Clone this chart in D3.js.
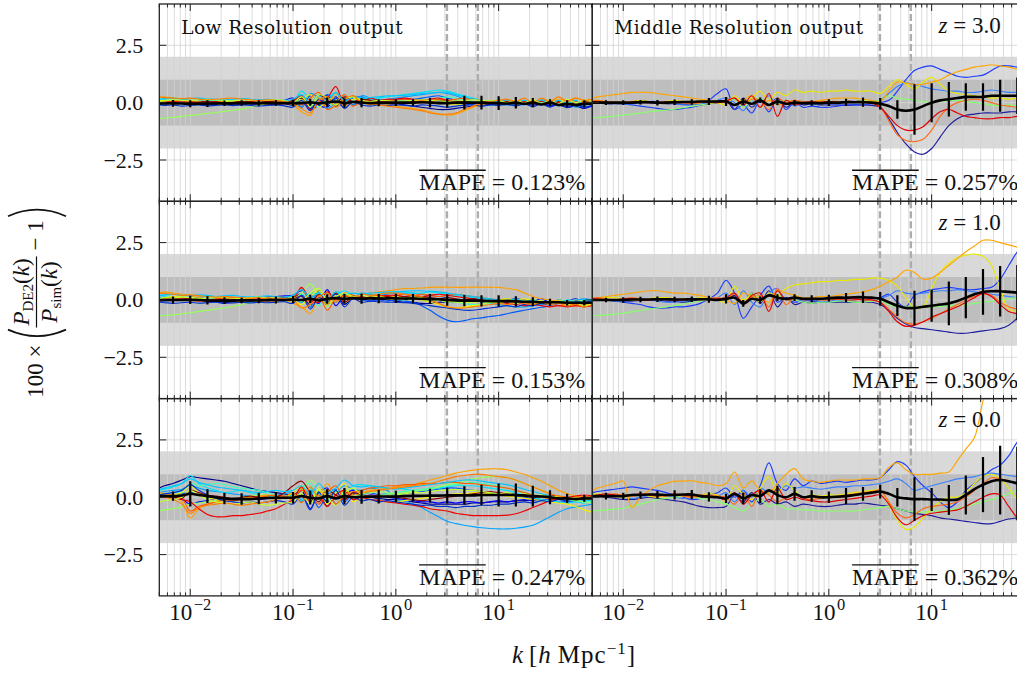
<!DOCTYPE html>
<html>
<head>
<meta charset="utf-8">
<script src="https://cdn.jsdelivr.net/npm/d3@7"></script>
<style>
  body { margin: 0; background: #fff; }
  svg { display: block; }
  text { font-family: "Liberation Serif", serif; fill: #111; }
</style>
</head>
<body>
<div id="chart"></div>
<script>
// ============================================================
// Data
// ============================================================
const K = [0.005, 0.0056, 0.0068, 0.0083, 0.01, 0.0121, 0.0147, 0.0178, 0.0215, 0.0261, 0.0316, 0.0383, 0.0464, 0.0562, 0.0681, 0.0825,
  0.1, 0.121, 0.147, 0.178, 0.215, 0.261, 0.316, 0.383, 0.464, 0.562, 0.681, 0.825,
  1, 1.21, 1.47, 1.78, 2.15, 2.61, 3.16, 3.83, 4.64, 5.62, 6.81, 8.25,
  10, 12.1, 14.7, 17.8, 21.5, 26.1, 31.6, 38.3, 46.4, 56.2, 68.1, 81.5];

const BAR_K = [0.0068, 0.01, 0.0147, 0.0215, 0.0316, 0.0464, 0.0681, 0.1, 0.147, 0.215, 0.316, 0.464, 0.681,
  1, 1.47, 2.15, 3.16, 4.64, 6.81, 10, 14.7, 21.5, 31.6, 46.4, 68.1];

const K_DOMAIN = [0.005, 81.5];
const Y_DOMAIN = [-4.3, 4.3];
const Y_TICKS = [-2.5, 0, 2.5];
const Y_TICK_LABELS = ['\u22122.5', '0.0', '2.5'];
const X_TICKS = [0.01, 0.1, 1, 10];
const X_TICK_EXP = ['\u22122', '\u22121', '0', '1'];
const DASHED_K = [3.14, 6.28];
const BANDS = [2, 1];

const LOW_COLORS = ['#00008f', '#0000ff', '#0058ff', '#00a4ff', '#00e4f8', '#40ffbc', '#96ff5a', '#f0f000', '#ffa000', '#ff5a00', '#ee0000', '#8b0000',
  '#0030d0', '#00c8ff', '#c8ff30', '#ff8000'];
const MID_COLORS = ['#1c1c9c', '#1a3cff', '#3a80ff', '#86ff6a', '#e8e800', '#ffa500', '#ff6a1a', '#e00000'];

// ---- Low resolution, z = 3.0
const LOW_Z3 = [
  [0.05,0.04,0.03,0.0,-0.05,-0.08,-0.1,-0.08,-0.05,-0.1,-0.08,-0.05,-0.07,-0.1,-0.08,-0.05, -0.1,0.2,-0.25,0.1,0.3,-0.15,0.2,-0.1,0.15,-0.05,0.05,-0.05, -0.05,-0.1,-0.15,-0.2,-0.25,-0.3,-0.3,-0.25,-0.2,-0.15,-0.1,-0.08, -0.05,-0.05,-0.1,-0.05,-0.1,-0.05,-0.15,-0.1,-0.2,-0.15,-0.25,-0.1],
  [0.1,0.08,0.05,0.05,0.0,-0.05,-0.02,0.05,0.08,0.05,0.02,-0.05,-0.03,0.0,0.05,0.1, 0.2,-0.2,0.3,-0.1,-0.2,0.25,-0.15,0.3,0.0,0.1,0.05,0.1, 0.1,0.05,0.1,0.15,0.1,0.05,0.0,-0.05,-0.1,-0.05,0.0,0.05, 0.0,0.05,-0.05,0.05,-0.1,0.1,-0.15,0.05,-0.2,-0.1,-0.2,-0.15],
  [-0.1,-0.05,0.0,0.02,0.05,0.08,0.1,0.05,0.0,-0.03,0.0,0.05,0.1,0.08,0.05,0.0, -0.05,0.3,-0.3,-0.1,0.35,0.1,-0.2,0.2,0.25,0.1,0.15,0.1, 0.1,0.12,0.15,0.2,0.25,0.3,0.2,0.1,0.0,-0.1,-0.15,-0.1, -0.05,0.0,0.05,0.0,-0.05,0.05,-0.1,0.0,-0.15,0.05,-0.1,-0.05],
  [0.05,0.1,0.05,0.0,-0.05,0.0,0.05,0.1,0.05,0.0,0.05,0.1,0.05,0.0,-0.05,0.0, 0.1,-0.2,0.4,0.2,-0.25,0.0,0.15,-0.1,0.3,0.2,0.1,0.15, 0.2,0.25,0.3,0.35,0.4,0.45,0.4,0.3,0.15,0.05,0.0,-0.05, -0.05,-0.1,-0.05,-0.1,0.0,-0.1,0.05,-0.15,0.0,-0.2,-0.1,-0.05],
  [0.15,0.12,0.1,0.1,0.08,0.05,0.08,0.1,0.05,0.02,0.0,0.05,0.08,0.05,0.1,0.05, 0.0,0.5,0.1,-0.2,0.2,0.4,-0.1,0.1,0.2,0.15,0.2,0.25, 0.3,0.35,0.4,0.45,0.5,0.55,0.5,0.4,0.3,0.2,0.1,0.05, 0.05,0.0,0.05,-0.05,0.05,-0.05,0.0,-0.1,0.05,-0.05,0.0,0.05],
  [0.2,0.18,0.15,0.1,0.1,0.12,0.1,0.05,0.05,0.08,0.05,0.0,0.02,0.05,0.0,0.05, 0.1,0.3,-0.2,0.35,0.0,-0.1,0.3,0.1,-0.05,0.1,0.05,0.1, 0.1,0.05,0.1,0.1,0.15,0.2,0.25,0.2,0.1,0.05,0.0,0.0, 0.0,0.05,0.0,0.05,-0.05,0.0,0.05,-0.05,0.0,0.05,-0.05,0.0],
  [-0.69,-0.67,-0.64,-0.6,-0.56,-0.52,-0.47,-0.43,-0.38,-0.33,-0.28,-0.2,-0.12,-0.05,0.0,0.02, 0.0,0.15,-0.15,0.2,-0.1,0.1,0.0,0.05,0.1,0.0,0.05,0.0, 0.0,0.05,0.0,0.05,0.1,0.1,0.05,0.0,0.05,0.0,0.0,0.0, 0.0,0.05,0.0,-0.05,0.0,0.05,-0.05,0.0,0.05,-0.05,0.0,0.05],
  [0.1,0.08,0.05,0.02,0.0,-0.02,0.0,0.02,0.05,0.02,0.0,0.05,0.02,0.0,0.05,0.1, -0.05,0.1,0.35,-0.2,0.1,0.2,-0.05,0.15,0.05,0.0,0.1,0.05, 0.05,0.0,0.05,0.1,0.05,0.0,-0.05,-0.1,-0.05,0.0,0.05,0.1, 0.05,0.1,0.05,0.0,0.05,0.1,0.0,0.05,0.1,0.0,0.05,0.15],
  [0.2,0.25,0.2,0.15,0.1,0.05,0.0,-0.05,-0.05,0.0,0.05,0.0,-0.05,0.0,0.05,0.0, -0.1,-0.4,-0.55,0.2,-0.1,0.4,-0.2,0.3,0.1,-0.1,-0.05,-0.1, -0.15,-0.2,-0.25,-0.3,-0.4,-0.5,-0.55,-0.5,-0.35,-0.2,-0.1,0.0, 0.05,0.1,0.05,0.1,0.0,0.1,0.05,0.15,0.1,0.2,0.1,0.15],
  [0.0,0.05,0.08,0.1,0.05,0.0,0.05,0.0,-0.05,0.0,0.02,0.05,0.0,-0.05,0.0,-0.05, 0.05,-0.1,0.2,0.45,-0.3,-0.1,0.35,-0.15,0.05,0.1,0.05,0.1, 0.1,0.15,0.1,0.05,0.1,0.15,0.1,0.15,0.2,0.15,0.1,0.05, 0.1,0.05,0.1,0.0,0.05,0.1,0.05,0.0,0.1,0.05,0.0,-0.05],
  [-0.05,0.0,0.05,0.08,0.05,0.0,0.02,0.05,0.0,-0.02,0.0,0.05,0.02,0.05,0.0,0.02, 0.1,0.3,-0.3,0.0,0.2,0.7,-0.1,0.25,0.05,0.2,0.1,0.15, 0.15,0.2,0.15,0.1,0.15,0.2,0.1,0.05,0.1,0.15,0.1,0.05, 0.1,0.05,0.0,0.05,-0.05,0.05,-0.05,0.0,-0.1,0.0,-0.05,0.05],
  [0.05,0.02,0.0,-0.02,0.0,0.02,0.05,0.02,0.0,0.03,0.05,0.02,0.0,0.05,0.02,0.0, 0.05,0.2,-0.1,0.35,0.1,0.0,0.25,0.05,0.15,0.1,0.05,0.05, 0.05,0.0,0.05,0.0,0.05,0.1,0.05,0.0,0.05,0.0,-0.05,0.0, 0.0,0.05,-0.05,0.0,0.05,-0.05,0.0,0.05,-0.05,0.0,0.05,0.0],
  [-0.1,-0.12,-0.1,-0.15,-0.12,-0.1,-0.14,-0.12,-0.1,-0.13,-0.1,-0.12,-0.15,-0.12,-0.1,-0.14, -0.2,0.1,-0.35,0.15,-0.1,0.2,-0.25,0.05,-0.1,-0.15,-0.1,-0.12, -0.1,-0.12,-0.15,-0.1,-0.12,-0.15,-0.2,-0.15,-0.12,-0.1,-0.15,-0.1, -0.12,-0.08,-0.15,-0.05,-0.18,-0.05,-0.2,-0.05,-0.22,-0.08,-0.2,-0.1],
  [0.15,0.18,0.2,0.15,0.18,0.2,0.17,0.15,0.12,0.15,0.18,0.15,0.12,0.15,0.12,0.1, 0.15,0.35,0.0,0.3,0.1,0.45,0.05,0.25,0.2,0.22,0.25,0.3, 0.3,0.32,0.35,0.4,0.42,0.45,0.45,0.35,0.25,0.15,0.1,0.08, 0.05,0.12,0.0,0.1,-0.02,0.12,-0.05,0.1,-0.05,0.1,-0.08,0.05],
  [0.05,0.08,0.12,0.1,0.08,0.12,0.15,0.12,0.1,0.08,0.12,0.1,0.08,0.1,0.12,0.08, 0.0,0.25,-0.15,0.35,0.2,-0.1,0.15,0.25,0.1,0.05,0.1,0.08, 0.05,0.08,0.1,0.12,0.1,0.08,0.05,0.08,0.1,0.12,0.1,0.08, 0.1,0.0,0.12,-0.02,0.15,-0.05,0.12,-0.05,0.15,0.0,0.1,0.05],
  [0.25,0.22,0.2,0.18,0.2,0.15,0.12,0.15,0.18,0.2,0.15,0.12,0.1,0.12,0.1,0.05, -0.05,-0.25,-0.45,0.1,0.25,-0.2,0.15,0.3,0.0,-0.05,-0.1,-0.15, -0.2,-0.25,-0.3,-0.35,-0.45,-0.5,-0.5,-0.45,-0.3,-0.15,-0.05,0.05, 0.1,0.15,0.05,0.2,0.0,0.2,0.05,0.25,0.05,0.2,0.1,0.15]
];
const MEAN_LOW_Z3 = [-0.03,-0.03,-0.03,-0.04,-0.05,-0.05,-0.04,-0.03,-0.03,-0.03,-0.02,-0.02,-0.02,-0.02,-0.02,-0.02, -0.02,-0.02,0.02,-0.03,0.02,0.05,-0.02,0.03,0.0,-0.02,-0.01,0.0, 0.0,0.0,0.0,0.02,0.0,-0.02,-0.02,0.0,0.0,0.0,0.0,-0.02, -0.02,-0.04,0.0,-0.05,0.0,-0.08,0.0,-0.1,-0.05,-0.1,-0.05,-0.05];
const ERR_LOW_Z3 = [0.15,0.15,0.15,0.12,0.12,0.12,0.12,0.15,0.15,0.2,0.2,0.2,0.15,0.15,0.15,0.2,0.2,0.3,0.3,0.3,0.25,0.2,0.15,0.15,0.15];

// ---- Low resolution, z = 1.0
const LOW_Z1 = [
  [0.0,-0.02,0.0,0.03,0.05,0.0,-0.05,-0.08,-0.1,-0.12,-0.1,-0.08,-0.05,-0.05,0.0,0.05, 0.1,0.25,-0.3,0.4,-0.15,0.3,-0.2,0.1,0.05,0.0,0.05,0.0, -0.05,-0.1,-0.1,-0.15,-0.15,-0.1,-0.1,-0.05,0.0,0.05,0.0,-0.05, -0.1,-0.05,-0.1,-0.15,-0.1,-0.15,-0.1,-0.05,-0.1,-0.05,-0.1,-0.05],
  [0.1,0.08,0.05,0.0,-0.02,0.0,0.05,0.1,0.12,0.1,0.05,0.08,0.1,0.12,0.15,0.18, 0.2,0.4,0.1,-0.15,0.45,-0.25,0.2,0.05,0.15,0.1,0.12,0.1, 0.05,0.0,0.05,0.0,-0.05,0.0,-0.05,-0.1,-0.05,0.0,0.05,0.0, -0.05,0.0,0.05,0.0,-0.05,0.05,-0.1,0.0,-0.05,0.05,-0.1,0.0],
  [-0.05,-0.05,-0.02,0.0,0.02,0.0,-0.02,0.0,0.02,0.05,0.02,0.0,0.05,0.08,0.05,0.0, 0.05,-0.1,0.2,0.0,-0.2,0.15,0.05,0.1,0.0,-0.05,0.0,-0.05, 0.0,-0.05,-0.1,-0.25,-0.45,-0.7,-0.88,-0.95,-0.9,-0.82,-0.78,-0.72, -0.68,-0.6,-0.52,-0.45,-0.38,-0.32,-0.25,-0.15,-0.1,-0.05,0.0,0.02],
  [0.1,0.12,0.1,0.08,0.05,0.1,0.15,0.12,0.1,0.08,0.1,0.05,0.0,0.05,0.1,0.05, 0.0,0.2,-0.3,0.35,0.1,-0.1,0.25,0.1,0.3,0.25,0.2,0.25, 0.3,0.3,0.3,0.25,0.2,0.15,0.1,0.05,0.0,-0.05,-0.1,-0.15, -0.2,-0.25,-0.3,-0.3,-0.25,-0.2,-0.15,-0.1,-0.05,0.0,0.05,0.0],
  [0.2,0.18,0.15,0.12,0.1,0.12,0.15,0.1,0.05,0.08,0.1,0.12,0.1,0.05,0.08,0.1, 0.15,-0.1,0.3,0.2,-0.2,0.2,0.4,0.2,0.1,0.2,0.25,0.3, 0.35,0.35,0.3,0.3,0.35,0.3,0.25,0.2,0.15,0.1,0.05,0.0, -0.05,-0.1,-0.05,-0.1,-0.15,-0.1,-0.15,-0.1,-0.05,-0.1,0.0,-0.05],
  [0.05,0.1,0.15,0.1,0.05,0.0,0.05,0.08,0.1,0.05,0.02,0.0,0.05,0.1,0.05,0.0, -0.1,0.25,0.0,-0.25,0.3,0.1,0.05,0.2,0.05,0.1,0.05,0.1, 0.1,0.15,0.15,0.1,0.05,0.0,-0.05,-0.1,-0.15,-0.2,-0.2,-0.15, -0.1,-0.15,-0.1,-0.05,-0.1,-0.15,-0.1,-0.05,0.0,-0.05,-0.1,-0.05],
  [-0.7,-0.68,-0.65,-0.6,-0.56,-0.5,-0.45,-0.4,-0.34,-0.28,-0.2,-0.12,-0.05,0.0,0.02,0.0, 0.05,0.3,0.7,0.2,-0.3,0.2,0.1,0.05,0.15,0.05,0.1,0.05, 0.05,0.0,0.05,0.0,-0.05,0.0,-0.1,-0.05,0.0,-0.05,0.0,-0.05, -0.1,-0.05,-0.1,-0.05,0.0,-0.05,-0.1,0.0,-0.05,0.0,-0.05,0.0],
  [0.05,0.1,0.15,0.12,0.1,0.05,0.0,0.02,0.05,0.0,-0.05,0.0,0.05,0.0,-0.02,0.05, 0.0,-0.2,0.15,0.4,-0.1,0.0,0.2,0.1,0.05,0.15,0.1,0.15, 0.15,0.1,0.05,0.0,-0.1,-0.2,-0.3,-0.35,-0.3,-0.25,-0.2,-0.1, 0.0,0.05,0.0,0.05,0.0,-0.05,-0.1,-0.05,-0.1,-0.15,-0.1,-0.1],
  [0.3,0.35,0.3,0.25,0.2,0.1,0.05,0.0,-0.05,-0.1,-0.05,0.0,-0.05,-0.1,-0.05,0.0, -0.15,-0.3,-0.6,0.1,-0.2,0.3,-0.1,0.1,0.2,0.3,0.35,0.4, 0.45,0.5,0.5,0.52,0.55,0.56,0.56,0.55,0.55,0.56,0.56,0.55, 0.55,0.5,0.45,0.3,0.15,0.05,0.0,-0.05,-0.1,-0.05,-0.1,-0.05],
  [0.0,0.05,0.1,0.05,0.0,-0.05,0.0,0.05,0.1,0.05,0.0,0.05,0.1,0.05,0.0,0.05, 0.1,0.5,-0.1,0.2,-0.45,0.1,0.3,0.2,0.1,0.15,0.2,0.15, 0.2,0.25,0.2,0.25,0.2,0.15,0.2,0.25,0.2,0.15,0.1,0.05, 0.0,-0.05,-0.1,-0.15,-0.2,-0.15,-0.2,-0.25,-0.2,-0.25,-0.2,-0.15],
  [-0.05,0.0,0.05,0.1,0.05,0.0,-0.05,0.0,0.05,0.1,0.05,0.0,0.05,0.1,0.15,0.1, 0.05,0.55,0.0,-0.1,0.35,0.0,0.2,0.05,0.15,0.1,0.15,0.2, 0.2,0.15,0.2,0.15,0.2,0.25,0.2,0.15,0.1,0.05,0.0,-0.05, -0.1,-0.15,-0.2,-0.25,-0.2,-0.25,-0.3,-0.25,-0.3,-0.25,-0.3,-0.25],
  [0.0,-0.02,0.0,0.02,0.05,0.02,0.0,-0.02,0.0,0.02,0.05,0.02,0.0,0.02,0.05,0.1, 0.05,0.15,-0.2,0.25,0.05,0.3,-0.1,0.15,0.1,0.05,0.1,0.15, 0.1,0.15,0.1,0.15,0.1,0.05,0.1,0.05,0.0,0.05,0.0,-0.05, -0.05,-0.1,-0.05,-0.1,-0.15,-0.1,-0.15,-0.1,-0.15,-0.2,-0.15,-0.1],
  [-0.1,-0.12,-0.15,-0.12,-0.1,-0.14,-0.12,-0.1,-0.15,-0.12,-0.1,-0.13,-0.1,-0.12,-0.1,-0.08, -0.15,0.2,-0.4,0.1,-0.05,0.25,-0.3,0.05,-0.1,-0.05,-0.08,-0.1, -0.1,-0.12,-0.15,-0.2,-0.25,-0.3,-0.35,-0.4,-0.45,-0.45,-0.4,-0.35, -0.3,-0.25,-0.3,-0.2,-0.25,-0.15,-0.2,-0.1,-0.15,-0.05,-0.1,-0.05],
  [0.2,0.22,0.25,0.2,0.18,0.22,0.2,0.15,0.18,0.2,0.15,0.12,0.15,0.18,0.15,0.12, 0.2,0.45,0.1,0.3,0.05,0.35,0.25,0.3,0.25,0.3,0.32,0.35, 0.35,0.38,0.4,0.4,0.38,0.35,0.3,0.25,0.2,0.15,0.1,0.05, 0.0,-0.05,0.05,-0.08,0.0,-0.1,-0.05,-0.12,0.0,-0.1,-0.05,0.0],
  [0.05,0.1,0.08,0.12,0.1,0.05,0.08,0.12,0.1,0.08,0.05,0.1,0.12,0.08,0.1,0.05, 0.1,-0.05,0.3,0.5,0.0,0.15,0.3,0.15,0.2,0.12,0.15,0.1, 0.12,0.1,0.08,0.1,0.05,0.0,-0.05,-0.1,-0.12,-0.1,-0.08,-0.1, -0.12,-0.05,-0.15,-0.05,-0.15,-0.08,-0.2,-0.1,-0.2,-0.15,-0.25,-0.15],
  [0.3,0.28,0.25,0.2,0.22,0.18,0.15,0.12,0.15,0.12,0.1,0.08,0.1,0.05,0.08,0.05, 0.0,-0.35,-0.2,0.15,0.3,-0.1,0.2,0.1,0.25,0.2,0.25,0.3, 0.3,0.25,0.2,0.15,0.0,-0.15,-0.3,-0.35,-0.35,-0.3,-0.25,-0.2, -0.15,-0.2,-0.1,-0.15,-0.2,-0.1,-0.2,-0.15,-0.25,-0.2,-0.3,-0.2]
];
const MEAN_LOW_Z1 = [0.0,0.0,0.0,0.0,0.0,0.0,-0.02,-0.03,-0.03,-0.03,-0.02,-0.02,-0.02,0.0,0.0,0.0, 0.02,0.0,0.05,-0.02,0.05,0.08,0.05,0.08,0.05,0.08,0.06,0.07, 0.07,0.06,0.06,0.05,0.04,0.03,0.0,-0.02,-0.03,-0.03,-0.04,-0.05, -0.05,-0.05,-0.06,-0.08,-0.08,-0.1,-0.1,-0.1,-0.12,-0.12,-0.12,-0.12];
const ERR_LOW_Z1 = [0.15,0.18,0.18,0.15,0.12,0.12,0.15,0.15,0.18,0.2,0.22,0.22,0.2,0.2,0.2,0.22,0.25,0.25,0.25,0.25,0.22,0.2,0.15,0.12,0.12];

// ---- Low resolution, z = 0.0
const LOW_Z0 = [
  [0.4,0.5,0.6,0.75,0.9,0.85,0.8,0.75,0.7,0.6,0.5,0.4,0.3,0.25,0.2,0.15, 0.1,0.3,-0.2,0.25,-0.4,0.2,-0.1,0.1,0.0,-0.1,-0.05,-0.1, -0.1,-0.15,-0.2,-0.25,-0.3,-0.3,-0.3,-0.3,-0.3,-0.25,-0.25,-0.2, -0.2,-0.2,-0.15,-0.15,-0.1,-0.15,-0.1,-0.05,-0.1,-0.05,-0.1,-0.05],
  [0.1,0.05,0.0,-0.1,-0.3,-0.2,-0.15,-0.1,-0.1,-0.05,0.0,-0.05,-0.1,-0.05,0.0,0.05, -0.1,0.3,-0.5,0.2,0.4,-0.3,0.1,0.3,0.0,0.1,0.05,0.0, -0.05,-0.1,-0.15,-0.2,-0.2,-0.25,-0.2,-0.25,-0.2,-0.2,-0.25,-0.2, -0.15,-0.2,-0.15,-0.1,-0.15,-0.1,-0.15,-0.1,-0.2,-0.1,-0.05,-0.1],
  [0.0,0.05,0.1,0.15,0.2,0.1,0.05,0.0,-0.05,-0.1,-0.05,0.0,0.05,0.0,-0.05,0.0, 0.1,-0.2,0.2,-0.45,0.1,0.35,-0.2,0.15,0.1,0.2,0.1,0.15, 0.1,0.15,0.2,0.25,0.3,0.35,0.4,0.4,0.35,0.3,0.25,0.2, 0.15,0.1,0.05,0.0,-0.05,-0.1,-0.15,-0.2,-0.2,-0.15,-0.1,-0.05],
  [0.2,0.25,0.3,0.35,0.5,0.4,0.3,0.25,0.2,0.15,0.1,0.05,0.0,0.05,0.1,0.15, 0.2,-0.1,0.3,0.1,-0.1,0.2,0.5,0.35,0.3,0.4,0.35,0.3, -0.1,-0.15,-0.3,-0.45,-0.65,-0.85,-1.05,-1.15,-1.22,-1.28,-1.33,-1.36, -1.38,-1.38,-1.35,-1.3,-1.22,-1.05,-0.85,-0.65,-0.5,-0.42,-0.36,-0.3],
  [0.3,0.35,0.45,0.6,0.95,0.6,0.4,0.3,0.2,0.25,0.3,0.2,0.1,0.05,0.0,0.05, 0.1,-0.15,0.35,0.2,-0.2,0.3,0.1,0.5,0.55,0.5,0.45,0.4, 0.4,0.35,0.3,0.3,0.35,0.4,0.45,0.5,0.5,0.5,0.45,0.4, 0.35,0.3,0.2,0.1,0.0,-0.1,-0.15,-0.2,-0.25,-0.2,-0.25,-0.2],
  [0.1,0.15,0.2,0.25,0.6,0.5,0.55,0.6,0.55,0.45,0.4,0.35,0.3,0.2,0.1,0.05, 0.0,0.4,0.6,-0.1,0.3,0.1,0.2,0.0,0.1,0.05,0.1,0.15, 0.2,0.25,0.3,0.35,0.4,0.45,0.5,0.55,0.6,0.65,0.6,0.55, 0.5,0.4,0.3,0.2,0.1,0.0,-0.05,-0.1,-0.15,-0.1,-0.2,-0.15],
  [-0.6,-0.55,-0.5,-0.42,-0.3,-0.25,-0.2,-0.15,-0.1,-0.05,0.0,0.05,0.1,0.1,0.05,0.0, 0.05,0.2,0.75,0.4,-0.1,0.2,0.1,0.05,0.15,0.2,0.25,0.2, 0.15,0.2,0.25,0.3,0.35,0.45,0.55,0.6,0.7,0.8,0.85,0.9, 0.9,0.85,0.75,0.6,0.45,0.3,0.15,0.0,-0.1,-0.15,-0.2,-0.25],
  [0.0,0.05,0.1,0.2,0.5,0.2,0.0,-0.1,-0.15,-0.1,-0.05,0.0,0.05,0.0,-0.05,0.0, 0.2,0.5,-0.1,0.3,-0.3,0.2,0.6,-0.2,0.0,-0.1,-0.15,-0.2, -0.2,-0.15,-0.1,-0.05,0.0,0.05,0.1,0.15,0.15,0.2,0.2,0.15, 0.1,0.05,0.0,-0.05,-0.1,-0.15,-0.2,-0.25,-0.3,-0.4,-0.55,-0.65],
  [0.2,0.15,0.1,-0.2,-0.9,-0.5,-0.3,-0.2,-0.15,-0.1,-0.05,0.0,0.05,0.1,0.05,0.0, -0.1,0.4,-0.2,0.1,0.6,0.0,0.3,0.1,0.2,0.3,0.35,0.4, 0.45,0.5,0.55,0.65,0.75,0.85,0.95,1.05,1.12,1.18,1.22,1.24, 1.24,1.2,1.1,1.0,0.85,0.7,0.5,0.3,0.15,0.05,0.0,-0.05],
  [0.1,0.05,0.0,-0.05,-0.6,-0.4,-0.3,-0.2,-0.1,-0.15,-0.1,-0.05,0.0,0.05,0.1,0.05, 0.0,0.3,0.1,-0.3,0.2,0.5,-0.1,0.2,0.3,0.4,0.45,0.5, 0.5,0.55,0.55,0.6,0.6,0.6,0.65,0.65,0.6,0.6,0.55,0.5, 0.45,0.4,0.3,0.2,0.1,0.0,-0.05,-0.1,-0.1,-0.05,0.0,0.0],
  [0.1,0.05,0.0,-0.1,-0.2,-0.5,-0.75,-0.85,-0.85,-0.8,-0.8,-0.75,-0.7,-0.6,-0.5,-0.3, -0.1,0.45,-0.2,0.0,-0.4,0.1,0.3,-0.1,0.0,-0.1,-0.15,-0.2, -0.25,-0.3,-0.35,-0.4,-0.5,-0.55,-0.6,-0.7,-0.75,-0.8,-0.8,-0.8, -0.8,-0.78,-0.72,-0.6,-0.45,-0.3,-0.15,-0.05,0.0,0.05,0.1,0.05],
  [0.0,0.05,0.0,-0.05,0.3,0.2,0.1,0.05,0.0,-0.05,0.0,0.05,0.0,-0.05,0.0,0.2, 0.5,0.7,0.2,-0.2,0.3,0.1,-0.1,0.2,0.1,0.05,0.1,0.05, 0.0,-0.05,-0.1,-0.15,-0.1,-0.05,0.0,0.05,0.1,0.15,0.2,0.25, 0.2,0.15,0.1,0.05,0.0,0.05,0.1,0.05,0.0,-0.05,0.0,0.05],
  [0.1,0.15,0.2,0.3,0.55,0.3,0.1,-0.05,-0.15,-0.2,-0.25,-0.2,-0.25,-0.2,-0.15,-0.2, -0.3,0.1,-0.55,0.2,-0.2,0.3,-0.35,0.0,-0.15,-0.1,-0.2,-0.15, -0.2,-0.25,-0.3,-0.35,-0.35,-0.4,-0.4,-0.45,-0.4,-0.4,-0.35,-0.35, -0.3,-0.3,-0.25,-0.2,-0.25,-0.15,-0.2,-0.1,-0.15,-0.05,-0.1,-0.05],
  [0.35,0.4,0.5,0.6,0.8,0.65,0.55,0.45,0.4,0.35,0.3,0.25,0.2,0.25,0.3,0.25, 0.3,0.5,0.1,0.6,0.2,0.4,0.75,0.5,0.45,0.5,0.45,0.4, 0.35,0.4,0.45,0.5,0.55,0.6,0.65,0.7,0.75,0.75,0.7,0.65, 0.6,0.55,0.45,0.35,0.25,0.15,0.05,0.0,-0.1,-0.05,-0.15,-0.1],
  [-0.2,-0.15,-0.1,0.0,0.3,0.1,-0.1,-0.2,-0.25,-0.3,-0.25,-0.2,-0.3,-0.35,-0.3,-0.25, -0.2,0.15,-0.3,0.35,0.0,-0.35,0.2,0.4,0.1,0.0,0.05,0.1, 0.1,0.15,0.2,0.2,0.25,0.3,0.3,0.35,0.3,0.3,0.25,0.2, 0.15,0.2,0.1,0.15,0.05,0.1,0.0,0.05,-0.05,0.0,-0.1,-0.05],
  [0.05,0.0,-0.1,-0.3,-0.7,-0.45,-0.35,-0.3,-0.25,-0.3,-0.35,-0.3,-0.25,-0.2,-0.1,0.0, 0.2,-0.25,0.45,0.0,0.35,-0.3,0.1,0.25,0.2,0.25,0.3,0.35, 0.4,0.45,0.5,0.55,0.6,0.7,0.8,0.9,0.95,1.0,1.0,0.95, 0.9,0.85,0.75,0.6,0.45,0.3,0.15,0.05,0.0,-0.05,0.05,0.0]
];
const MEAN_LOW_Z0 = [0.05,0.05,0.05,0.08,0.15,0.1,0.05,0.0,-0.05,-0.08,-0.08,-0.08,-0.05,-0.03,-0.02,-0.02, -0.02,0.05,-0.02,-0.05,0.05,-0.05,0.05,0.0,0.02,0.02,0.03,0.03, 0.03,0.05,0.06,0.06,0.07,0.07,0.08,0.08,0.08,0.08,0.1,0.1, 0.1,0.1,0.1,0.08,0.05,0.03,0.0,-0.05,-0.05,-0.08,-0.05,-0.05];
const ERR_LOW_Z0 = [0.2,0.55,0.3,0.25,0.25,0.25,0.25,0.25,0.3,0.3,0.35,0.3,0.3,0.25,0.25,0.3,0.35,0.4,0.45,0.5,0.5,0.45,0.3,0.2,0.15];

// ---- Middle resolution, z = 3.0
const MID_Z3 = [
  [0.0,0.0,-0.05,-0.05,-0.05,-0.03,0.0,0.0,-0.02,-0.05,-0.05,-0.08,-0.1,-0.1,-0.05,0.0, 0.1,-0.3,0.2,-0.2,0.1,-0.1,0.2,-0.2,0.0,-0.1,-0.05,-0.1, -0.1,-0.1,-0.12,-0.1,-0.1,-0.12,-0.2,-0.7,-1.3,-1.8,-2.15,-2.25, -2.0,-1.5,-1.0,-0.7,-0.55,-0.5,-0.45,-0.45,-0.45,-0.4,-0.4,-0.4],
  [0.0,0.05,0.05,0.0,-0.05,-0.1,-0.15,-0.2,-0.25,-0.3,-0.3,-0.25,-0.2,-0.1,0.1,0.4, 0.6,-0.3,-0.1,-0.45,0.1,-0.4,0.2,-0.3,0.0,-0.2,-0.15,-0.2, -0.2,-0.15,-0.1,-0.1,-0.1,-0.05,0.0,0.1,0.5,1.0,1.4,1.55, 1.6,1.45,1.3,1.15,1.1,1.15,1.2,1.4,1.6,1.6,1.55,1.5],
  [0.05,0.05,0.0,0.0,-0.05,-0.05,0.0,0.05,0.05,0.0,-0.05,-0.1,-0.1,-0.05,0.0,0.1, 0.2,0.0,-0.35,0.1,-0.2,0.3,-0.1,0.1,-0.15,0.0,-0.1,-0.05, -0.05,-0.05,0.0,0.0,0.0,0.05,0.1,0.4,0.7,0.85,0.8,0.7, 0.6,0.55,0.5,0.5,0.45,0.45,0.5,0.55,0.5,0.45,0.45,0.4],
  [-0.67,-0.65,-0.62,-0.58,-0.54,-0.5,-0.45,-0.4,-0.36,-0.32,-0.28,-0.22,-0.15,-0.1,-0.05,0.0, 0.05,0.15,-0.2,0.1,0.2,-0.1,0.05,0.1,0.0,0.05,0.0,0.05, 0.05,0.0,0.05,0.05,0.1,0.05,0.1,0.3,0.2,0.15,0.1,0.05, 0.0,0.05,0.1,0.1,0.05,0.0,-0.05,-0.1,-0.15,-0.1,-0.15,-0.1],
  [0.1,0.1,0.05,0.05,0.0,0.05,0.1,0.05,0.0,0.05,0.1,0.05,0.0,0.0,0.05,0.0, -0.1,0.3,0.0,0.2,0.5,0.1,0.45,0.3,0.55,0.45,0.5,0.45, 0.5,0.5,0.55,0.5,0.5,0.5,0.4,0.7,1.0,0.8,0.6,0.9, 1.1,0.8,0.5,0.4,0.35,0.3,0.25,0.2,0.2,0.15,0.2,0.15],
  [0.2,0.25,0.3,0.35,0.4,0.45,0.45,0.45,0.4,0.35,0.3,0.25,0.2,0.15,0.1,0.05, 0.0,-0.1,0.1,0.3,-0.2,0.1,-0.1,0.0,0.1,0.0,0.05,0.1, 0.15,0.2,0.2,0.2,0.15,0.1,0.05,0.5,0.9,0.85,0.8,0.8, 0.9,1.0,1.2,1.35,1.45,1.55,1.6,1.65,1.6,1.55,1.45,1.35],
  [0.1,0.1,0.05,0.05,0.0,0.0,0.05,0.05,0.0,0.0,0.05,0.0,-0.05,0.0,0.05,0.0, 0.1,0.2,-0.1,0.15,0.1,-0.3,0.2,0.0,0.1,0.05,0.0,0.05, 0.05,0.05,0.0,0.05,0.0,0.0,-0.2,-0.8,-1.4,-1.65,-1.7,-1.6, -1.2,-0.6,-0.2,0.0,0.1,0.15,0.1,0.0,-0.1,-0.15,-0.2,-0.2],
  [0.05,0.05,0.0,0.0,0.0,0.05,0.05,0.0,0.0,0.05,0.0,0.0,0.05,0.05,0.0,0.0, 0.05,0.2,-0.1,0.3,-0.2,0.4,-0.6,0.1,-0.1,0.0,0.05,0.0, 0.05,0.0,0.05,0.05,0.05,0.0,-0.2,-0.6,-1.0,-1.2,-1.2,-1.05, -0.7,-0.4,-0.3,-0.45,-0.6,-0.65,-0.7,-0.7,-0.65,-0.65,-0.6,-0.6]
];
const MEAN_MID_Z3 = [0.0,0.0,0.0,0.0,0.0,0.0,0.02,0.02,0.0,0.0,0.02,0.03,0.03,0.05,0.05,0.05, 0.05,-0.1,0.05,-0.05,0.1,-0.1,0.05,-0.05,0.0,-0.02,-0.02,-0.02, 0.0,0.0,0.02,0.02,0.02,0.0,-0.05,-0.15,-0.3,-0.35,-0.3,-0.15, 0.0,0.1,0.15,0.2,0.25,0.25,0.25,0.3,0.3,0.3,0.3,0.3];
const ERR_MID_Z3 = [0.1,0.1,0.1,0.12,0.12,0.12,0.15,0.2,0.15,0.12,0.15,0.12,0.12,0.15,0.15,0.2,0.25,0.4,1.1,0.85,0.75,0.6,0.6,0.7,0.8];

// ---- Middle resolution, z = 1.0
const MID_Z1 = [
  [0.0,0.0,0.0,-0.02,-0.05,-0.05,-0.02,0.0,0.0,-0.05,-0.05,-0.1,-0.05,0.0,0.05,0.05, 0.0,0.2,-0.2,0.3,-0.15,0.4,-0.3,0.1,-0.2,-0.1,-0.15,-0.1, -0.1,-0.1,-0.1,-0.1,-0.1,-0.1,-0.2,-0.45,-0.8,-1.05,-1.2,-1.25, -1.3,-1.35,-1.4,-1.45,-1.45,-1.4,-1.35,-1.3,-1.25,-1.1,-0.8,-0.5],
  [0.0,0.05,0.0,-0.05,-0.1,-0.15,-0.2,-0.3,-0.35,-0.35,-0.3,-0.3,-0.25,-0.15,0.05,0.3, 0.85,0.3,-0.8,-0.3,0.2,0.6,-0.1,0.1,-0.1,0.0,-0.05,-0.1, -0.1,-0.05,-0.05,0.0,0.05,0.05,0.1,0.25,-0.1,-0.3,0.2,0.35, 0.45,0.5,0.55,0.5,0.45,0.45,0.5,0.55,0.9,1.5,2.1,2.5],
  [0.05,0.05,0.0,-0.05,-0.05,0.0,0.05,0.0,-0.05,-0.1,-0.1,-0.05,0.0,0.05,0.05,0.1, 0.3,-0.2,0.4,-0.1,-0.3,0.3,0.5,0.0,0.1,-0.05,0.0,-0.05, -0.05,0.0,0.0,0.05,0.1,0.1,0.05,0.2,0.4,0.3,0.25,0.3, 0.35,0.4,0.4,0.45,0.4,0.35,0.3,0.25,0.2,0.15,0.1,0.1],
  [-0.7,-0.68,-0.65,-0.62,-0.58,-0.52,-0.46,-0.4,-0.35,-0.3,-0.25,-0.18,-0.1,-0.05,0.0,0.0, 0.05,0.1,-0.15,0.3,0.1,-0.1,0.2,0.0,0.0,-0.1,-0.15,-0.1, -0.1,-0.05,-0.05,-0.1,-0.1,-0.05,0.0,-0.2,-0.3,-0.3,-0.3,-0.3, -0.3,-0.28,-0.25,-0.22,-0.2,-0.15,-0.1,-0.05,0.0,0.05,0.1,0.15],
  [0.05,0.05,0.1,0.1,0.05,0.0,0.0,0.05,0.1,0.1,0.05,0.0,0.05,0.1,0.05,0.0, -0.1,0.6,0.0,0.2,-0.1,0.3,0.2,0.5,0.65,0.7,0.75,0.8, 0.8,0.85,0.85,0.9,0.9,0.95,0.95,0.85,0.6,0.1,-0.35,-0.3, 0.5,1.2,1.6,1.85,1.95,2.0,1.9,1.5,0.5,-0.4,-0.5,-0.5],
  [0.1,0.1,0.15,0.2,0.25,0.3,0.35,0.4,0.4,0.35,0.3,0.3,0.25,0.2,0.1,0.05, 0.0,-0.15,0.3,0.15,0.1,-0.1,0.4,0.3,0.2,0.1,0.1,0.15, 0.15,0.2,0.25,0.3,0.35,0.45,0.6,0.8,1.0,1.3,1.2,0.9, 0.95,1.2,1.5,1.8,2.1,2.35,2.6,2.6,2.5,2.4,2.3,2.2],
  [0.05,0.1,0.05,0.0,0.05,0.1,0.05,0.0,0.05,0.05,0.0,0.05,0.05,0.0,0.05,0.1, 0.05,0.25,-0.1,0.15,0.2,-0.3,0.5,-0.2,0.1,0.0,0.05,0.0, 0.0,0.05,0.0,0.0,0.05,0.0,-0.1,-0.4,-0.75,-1.0,-1.05,-0.95, -0.8,-0.6,-0.4,-0.2,0.0,0.15,0.25,0.2,-0.1,-0.3,-0.4,-0.45],
  [0.05,0.05,0.0,0.0,0.05,0.05,0.0,0.0,0.05,0.05,0.0,0.0,0.05,0.05,0.0,0.05, 0.1,0.3,-0.2,0.2,0.3,-0.5,0.4,0.0,0.1,0.05,0.05,0.05, 0.05,0.05,0.05,0.05,0.0,0.0,-0.1,-0.5,-0.95,-1.15,-1.1,-0.95, -0.75,-0.6,-0.45,-0.3,-0.1,0.1,0.3,0.15,-0.2,-0.5,-0.6,-0.65]
];
const MEAN_MID_Z1 = [0.0,0.0,0.0,0.0,0.0,0.02,0.02,0.02,0.03,0.03,0.02,0.02,0.03,0.03,0.03,0.0, 0.05,0.1,-0.15,0.05,0.0,0.2,0.1,0.05,0.1,0.05,0.05,0.05, 0.08,0.1,0.1,0.12,0.12,0.1,0.05,-0.1,-0.25,-0.35,-0.35,-0.3, -0.25,-0.2,-0.15,-0.05,0.1,0.25,0.35,0.38,0.38,0.35,0.32,0.3];
const ERR_MID_Z1 = [0.1,0.12,0.12,0.12,0.12,0.12,0.15,0.2,0.15,0.15,0.15,0.15,0.15,0.15,0.2,0.25,0.3,0.45,0.75,0.7,0.95,0.9,1.0,1.1,1.2];

// ---- Middle resolution, z = 0.0
const MID_Z0 = [
  [0.1,0.05,0.0,-0.05,-0.1,-0.1,-0.05,0.0,-0.05,-0.1,-0.15,-0.2,-0.3,-0.4,-0.45,-0.45, -0.4,0.1,-0.2,0.2,-0.3,-0.1,-0.3,-0.2,-0.4,-0.3,-0.35,-0.4, -0.4,-0.35,-0.3,-0.3,-0.25,-0.3,-0.35,-0.4,-0.5,-0.6,-0.7,-0.75, -0.8,-0.9,-0.95,-1.0,-1.05,-1.1,-1.15,-1.15,-1.05,-0.95,-0.9,-0.85],
  [0.2,0.25,0.3,0.35,0.4,0.45,0.4,0.35,0.3,0.2,0.1,0.0,-0.1,-0.05,0.1,0.2, 0.4,0.0,0.3,-0.2,0.5,1.5,0.6,0.3,0.8,0.5,0.7,0.6, 0.65,0.7,0.65,0.7,0.75,0.75,0.85,1.2,1.55,1.4,0.9,0.5, 0.2,-0.2,-0.45,-0.2,0.3,0.6,0.9,1.2,1.4,1.8,2.4,2.7],
  [0.0,0.05,0.1,0.05,0.0,-0.05,0.0,0.05,0.1,0.05,0.0,-0.05,0.0,0.05,0.1,0.05, 0.2,-0.2,0.3,0.0,0.4,0.2,0.3,0.5,0.4,0.45,0.4,0.35, 0.4,0.45,0.45,0.5,0.5,0.55,0.6,0.7,0.8,0.6,0.3,0.4, 0.5,0.6,0.7,0.8,0.85,0.9,1.0,1.05,1.0,0.95,0.9,0.85],
  [-0.6,-0.58,-0.55,-0.52,-0.48,-0.4,-0.3,-0.2,-0.1,-0.05,0.0,0.05,0.0,-0.05,-0.1,-0.2, -0.3,-0.45,-0.6,-0.3,-0.1,-0.4,-0.3,-0.5,-0.5,-0.55,-0.55,-0.6, -0.6,-0.6,-0.6,-0.6,-0.55,-0.5,-0.45,-0.4,-0.5,-0.6,-0.65,-0.65, -0.6,-0.6,-0.55,-0.5,-0.4,-0.3,-0.2,-0.1,0.0,0.15,0.3,0.4],
  [0.1,0.15,0.1,0.05,0.0,0.05,0.1,0.05,0.0,0.05,0.1,0.05,0.0,0.1,0.15,0.1, -0.2,0.5,0.1,-0.1,0.4,0.9,0.2,0.6,0.3,0.0,0.1,0.05, 0.1,0.1,0.15,0.2,0.25,0.3,0.3,-0.3,-1.0,-1.4,-1.3,-0.9, -0.5,-0.2,0.0,0.0,0.2,0.6,0.9,1.0,0.8,0.4,-0.1,-0.4],
  [0.3,0.4,0.5,0.6,0.7,-0.45,0.0,0.3,0.5,0.6,0.7,0.7,0.72,0.65,0.6,0.5, 0.6,1.1,0.4,0.7,0.3,0.2,0.6,1.0,1.25,0.8,0.7,0.65, 0.7,0.75,0.75,0.75,0.8,0.8,0.85,1.3,1.5,1.2,1.0,1.0, 1.0,1.05,1.1,1.6,2.1,2.6,4.2,5.5,6.0,6.5,7.0,7.0],
  [0.1,0.05,0.1,0.15,0.1,0.05,0.1,0.15,0.1,0.05,0.1,0.05,0.0,0.05,0.1,0.05, 0.0,-0.3,0.2,-0.4,0.3,0.1,-0.2,0.0,0.1,-0.05,-0.1,-0.05, 0.0,0.05,0.1,0.15,0.2,0.25,0.3,-0.2,-0.7,-0.9,-0.75,-0.5, -0.4,-0.35,-0.3,-0.2,0.0,0.3,0.6,0.85,0.8,0.7,0.6,0.55],
  [0.05,0.1,0.15,0.1,0.05,0.1,0.15,0.1,0.05,0.1,0.15,0.1,0.05,0.1,0.05,0.0, -0.1,0.2,-0.3,0.1,0.3,-0.2,0.4,-0.1,0.0,-0.1,-0.15,-0.2, -0.2,-0.15,-0.1,-0.05,0.0,0.05,0.1,-0.3,-0.9,-1.2,-1.0,-0.8, -0.7,-0.65,-0.6,-0.55,-0.4,-0.2,0.0,0.15,0.1,-0.4,-0.9,-1.15]
];
const MEAN_MID_Z0 = [0.05,0.05,0.05,0.05,0.05,0.1,0.1,0.12,0.12,0.1,0.1,0.12,0.12,0.05,0.02,0.0, -0.05,0.15,-0.05,0.1,0.05,0.3,0.1,0.0,0.15,0.0,0.05,0.0, 0.0,0.02,0.05,0.1,0.15,0.2,0.25,0.15,0.0,-0.05,-0.08,-0.08, -0.1,-0.1,-0.12,-0.1,0.1,0.35,0.55,0.7,0.75,0.7,0.6,0.55];
const ERR_MID_Z0 = [0.15,0.15,0.15,0.15,0.2,0.2,0.2,0.2,0.25,0.3,0.4,0.3,0.25,0.25,0.35,0.3,0.3,0.4,0.95,0.5,0.65,0.85,1.2,1.5,1.6];

const MAPE = ['0.123', '0.257', '0.153', '0.308', '0.247', '0.362'];
const Z_LABELS = ['3.0', '1.0', '0.0'];
const TITLES = ['Low Resolution output', 'Middle Resolution output'];

// ============================================================
// Layout
// ============================================================
const WIDTH = 1017, HEIGHT = 674;
const PLOT = { left: 159.3, top: 4, w: 433, h: 197.3 };
const FONT_MATH = '"Liberation Serif", serif';
const FONT_TEXT = '"DejaVu Serif", serif';

const PANELS = [
  { row: 0, col: 0, lines: LOW_Z3, colors: LOW_COLORS, mean: MEAN_LOW_Z3, err: ERR_LOW_Z3 },
  { row: 0, col: 1, lines: MID_Z3, colors: MID_COLORS, mean: MEAN_MID_Z3, err: ERR_MID_Z3 },
  { row: 1, col: 0, lines: LOW_Z1, colors: LOW_COLORS, mean: MEAN_LOW_Z1, err: ERR_LOW_Z1 },
  { row: 1, col: 1, lines: MID_Z1, colors: MID_COLORS, mean: MEAN_MID_Z1, err: ERR_MID_Z1 },
  { row: 2, col: 0, lines: LOW_Z0, colors: LOW_COLORS, mean: MEAN_LOW_Z0, err: ERR_LOW_Z0 },
  { row: 2, col: 1, lines: MID_Z0, colors: MID_COLORS, mean: MEAN_MID_Z0, err: ERR_MID_Z0 }
];

const svg = d3.select('#chart').append('svg')
  .attr('width', WIDTH).attr('height', HEIGHT)
  .attr('viewBox', `0 0 ${WIDTH} ${HEIGHT}`);
svg.append('rect').attr('width', WIDTH).attr('height', HEIGHT).attr('fill', '#fff');
const defs = svg.append('defs');

const isDecade = t => Math.abs(Math.log10(t) - Math.round(Math.log10(t))) < 1e-9;

PANELS.forEach((p, i) => {
  const x0 = PLOT.left + p.col * PLOT.w;
  const y0 = PLOT.top + p.row * PLOT.h;
  const x = d3.scaleLog().domain(K_DOMAIN).range([x0, x0 + PLOT.w]);
  const y = d3.scaleLinear().domain(Y_DOMAIN).range([y0 + PLOT.h, y0]);

  defs.append('clipPath').attr('id', `clip-${i}`)
    .append('rect').attr('x', x0).attr('y', y0).attr('width', PLOT.w).attr('height', PLOT.h);

  const g = svg.append('g').attr('class', `panel-${i}`);
  const body = g.append('g').attr('clip-path', `url(#clip-${i})`);

  // shaded +-2% and +-1% bands
  BANDS.forEach(b => {
    body.append('rect')
      .attr('x', x0).attr('width', PLOT.w)
      .attr('y', y(b)).attr('height', y(-b) - y(b))
      .attr('fill', 'gray').attr('fill-opacity', 0.3);
  });

  // grid
  const xt = x.ticks();
  body.selectAll('line.gx').data(xt).join('line').attr('class', 'gx')
    .attr('x1', d => x(d)).attr('x2', d => x(d))
    .attr('y1', y0).attr('y2', y0 + PLOT.h)
    .attr('stroke', '#d3d3d3').attr('stroke-opacity', 0.8).attr('stroke-width', 1);
  body.selectAll('line.gy').data(Y_TICKS).join('line').attr('class', 'gy')
    .attr('x1', x0).attr('x2', x0 + PLOT.w)
    .attr('y1', d => y(d)).attr('y2', d => y(d))
    .attr('stroke', '#d3d3d3').attr('stroke-opacity', 0.8).attr('stroke-width', 1);

  // dashed reference scales
  body.selectAll('line.dash').data(DASHED_K).join('line').attr('class', 'dash')
    .attr('x1', d => x(d)).attr('x2', d => x(d))
    .attr('y1', y0).attr('y2', y0 + PLOT.h)
    .attr('stroke', '#adadad').attr('stroke-width', 2.4)
    .attr('stroke-dasharray', '7,3');

  // model lines (smooth curve through the read values)
  const line = d3.line().x((d, j) => x(K[j])).y(d => y(d))
    .curve(d3.curveCatmullRom.alpha(0.5));
  p.lines.forEach((vals, j) => {
    if (vals.length !== K.length) console.warn('length mismatch', i, j, vals.length);
    body.append('path').datum(vals)
      .attr('d', line)
      .attr('fill', 'none')
      .attr('stroke', p.colors[j])
      .attr('stroke-width', 1.15)
      .attr('stroke-linejoin', 'round');
  });

  // mean line + error bars
  body.append('path').datum(p.mean)
    .attr('d', line)
    .attr('fill', 'none').attr('stroke', '#000').attr('stroke-width', 2.6)
    .attr('stroke-linejoin', 'round');

  const bars = BAR_K.map((k, j) => {
    const idx = d3.minIndex(K, kk => Math.abs(Math.log(kk / k)));
    return { k, v: p.mean[idx], e: p.err[j] };
  });
  body.selectAll('line.err').data(bars).join('line').attr('class', 'err')
    .attr('x1', d => x(d.k)).attr('x2', d => x(d.k))
    .attr('y1', d => y(d.v - d.e)).attr('y2', d => y(d.v + d.e))
    .attr('stroke', '#000').attr('stroke-width', 2.2);

  // inward ticks
  const ticks = g.append('g').attr('stroke', '#222');
  xt.forEach(t => {
    const len = isDecade(t) ? 7 : 3.5;
    ticks.append('line').attr('x1', x(t)).attr('x2', x(t))
      .attr('y1', y0 + PLOT.h).attr('y2', y0 + PLOT.h - len).attr('stroke-width', 1);
    ticks.append('line').attr('x1', x(t)).attr('x2', x(t))
      .attr('y1', y0).attr('y2', y0 + len).attr('stroke-width', 1);
  });
  Y_TICKS.forEach(t => {
    ticks.append('line').attr('x1', x0).attr('x2', x0 + 7)
      .attr('y1', y(t)).attr('y2', y(t)).attr('stroke-width', 1);
    ticks.append('line').attr('x1', x0 + PLOT.w).attr('x2', x0 + PLOT.w - 7)
      .attr('y1', y(t)).attr('y2', y(t)).attr('stroke-width', 1);
  });

  // frame
  g.append('rect').attr('x', x0).attr('y', y0).attr('width', PLOT.w).attr('height', PLOT.h)
    .attr('fill', 'none').attr('stroke', '#222').attr('stroke-width', 1.3);

  // y tick labels
  if (p.col === 0) {
    Y_TICKS.forEach((t, j) => {
      g.append('text').attr('x', x0 - 16).attr('y', y(t) + 7.5)
        .attr('text-anchor', 'end').attr('font-size', 22)
        .style('font-family', FONT_MATH)
        .text(Y_TICK_LABELS[j]);
    });
  }
  // x tick labels
  if (p.row === 2) {
    X_TICKS.forEach((t, j) => {
      const tx = g.append('text').attr('x', x(t)).attr('y', y0 + PLOT.h + 24)
        .attr('text-anchor', 'middle').attr('font-size', 23)
        .style('font-family', FONT_MATH);
      tx.append('tspan').text('10');
      tx.append('tspan').attr('dy', -9.5).attr('dx', 1.5).attr('font-size', 16.5)
        .text(X_TICK_EXP[j]);
    });
  }

  // titles
  if (p.row === 0) {
    g.append('text').attr('x', x0 + 22).attr('y', y0 + 30)
      .attr('font-size', 18.5).style('font-family', FONT_TEXT)
      .style('letter-spacing', '0.45px')
      .text(TITLES[p.col]);
  }
  if (p.col === 1) {
    const zt = g.append('text').attr('x', x0 + PLOT.w - 24.5).attr('y', y0 + 28.5)
      .attr('text-anchor', 'end').attr('font-size', 23).style('font-family', FONT_MATH);
    zt.append('tspan').attr('font-style', 'italic').text('z');
    zt.append('tspan').text(' = ' + Z_LABELS[p.row]);
  }

  // MAPE annotation with overline
  const mt = g.append('text').attr('x', x0 + PLOT.w - 7).attr('y', y0 + PLOT.h - 11)
    .attr('text-anchor', 'end').attr('font-size', 24).style('font-family', FONT_MATH)
    .text(`MAPE = ${MAPE[i]}%`);
  const bb = mt.node().getBBox();
  const wM = mt.node().getSubStringLength(0, 4);
  g.append('line').attr('x1', bb.x).attr('x2', bb.x + wM)
    .attr('y1', y0 + PLOT.h - 31).attr('y2', y0 + PLOT.h - 31)
    .attr('stroke', '#111').attr('stroke-width', 1.4);
});

// ============================================================
// Axis labels
// ============================================================
const xl = svg.append('text').attr('x', 574).attr('y', 663)
  .attr('text-anchor', 'middle').attr('font-size', 25).style('font-family', FONT_MATH)
  .style('letter-spacing', '1px');
xl.append('tspan').attr('font-style', 'italic').text('k');
xl.append('tspan').attr('dx', 5).text('[');
xl.append('tspan').attr('font-style', 'italic').text('h');
xl.append('tspan').attr('dx', 6).text('Mpc');
xl.append('tspan').attr('dy', -9).attr('font-size', 17).text('\u22121');
xl.append('tspan').attr('dy', 9).text(']');

// rotated y label: 100 x ( P_DE2(k) / P_sim(k) - 1 )
const yl = svg.append('g').attr('transform', 'translate(43,302) rotate(-90)');
const inner = yl.append('g');
const FS = 23;
let cx = 0;
const t1 = inner.append('text').attr('x', cx).attr('y', 0).attr('font-size', FS)
  .style('font-family', FONT_MATH).text('100 \u00d7');
cx += t1.node().getComputedTextLength() + 5;
const lpX = cx;
cx += 12;

function fracPart(parent, sub, yBase) {
  const t = parent.append('text').attr('y', yBase).attr('font-size', FS).style('font-family', FONT_MATH);
  t.append('tspan').attr('font-style', 'italic').text('P');
  t.append('tspan').attr('dy', 4).attr('font-size', 15).text(sub);
  t.append('tspan').attr('dy', -4).text('(');
  t.append('tspan').attr('font-style', 'italic').text('k');
  t.append('tspan').text(')');
  return t;
}
const num = fracPart(inner, 'DE2', -14);
const den = fracPart(inner, 'sim', 14);
const wNum = num.node().getComputedTextLength();
const wDen = den.node().getComputedTextLength();
const wFrac = Math.max(wNum, wDen) + 4;
num.attr('x', cx + (wFrac - wNum) / 2);
den.attr('x', cx + (wFrac - wDen) / 2);
inner.append('line').attr('x1', cx).attr('x2', cx + wFrac).attr('y1', -6.5).attr('y2', -6.5)
  .attr('stroke', '#111').attr('stroke-width', 1.2);
cx += wFrac + 6;
const t3 = inner.append('text').attr('x', cx).attr('y', 0).attr('font-size', FS)
  .style('font-family', FONT_MATH).text('\u2212 1');
cx += t3.node().getComputedTextLength() + 4;
const rpX = cx;
cx += 10;

// big parentheses
inner.append('path')
  .attr('d', `M${lpX + 10},-35 Q${lpX - 3},-6 ${lpX + 10},23`)
  .attr('fill', 'none').attr('stroke', '#111').attr('stroke-width', 1.8);
inner.append('path')
  .attr('d', `M${rpX},-35 Q${rpX + 13},-6 ${rpX},23`)
  .attr('fill', 'none').attr('stroke', '#111').attr('stroke-width', 1.8);
inner.attr('transform', `translate(${-cx / 2},0)`);
</script>
</body>
</html>
